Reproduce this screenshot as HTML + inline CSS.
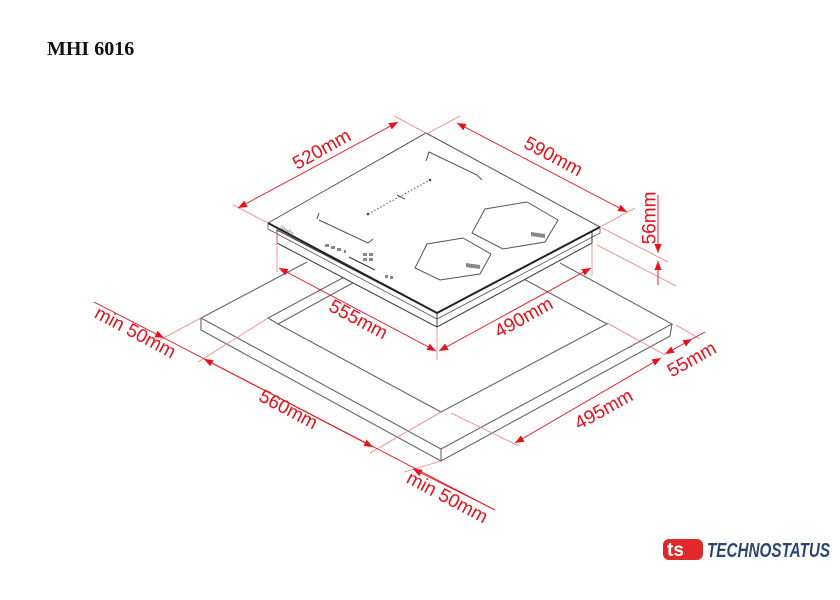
<!DOCTYPE html>
<html><head><meta charset="utf-8"><style>
html,body{margin:0;padding:0;background:#fff;width:840px;height:600px;overflow:hidden}
svg{display:block}
.t{font-family:"Liberation Sans",sans-serif;font-size:19px;fill:#e8101a;text-anchor:middle;dominant-baseline:central}
</style></head><body>
<svg width="840" height="600" viewBox="0 0 840 600" xmlns="http://www.w3.org/2000/svg">
<defs>
<marker id="a" viewBox="0 0 10 10" refX="10" refY="5" markerWidth="9" markerHeight="9" markerUnits="userSpaceOnUse" orient="auto-start-reverse"><path d="M0,1 L10,5 L0,9z" fill="#e8101a"/></marker>
</defs>
<text x="47" y="55" font-family="Liberation Serif,serif" font-weight="bold" font-size="20" fill="#111">MHI 6016</text>

<!-- countertop -->
<g stroke="#666" stroke-width="1.1" fill="none">
<path d="M307,262 L201,318 L441,449 L672,324 L560,263"/>
<path d="M201,318 L201,330 L441,461 L670,336 L672,324"/>
<path d="M441,449 L441,461"/>
<!-- cutout -->
<path d="M350,274 L268,318 L278,324 L441,412 L603,326 L607,324 L520,277"/>
<path d="M360,279 L278,324"/>
</g>

<!-- hob -->
<g fill="#fff" stroke="#444" stroke-width="1.1">
<path d="M277,230 L277,243 L437,327 L592,243 L592,230 L437,313z"/>
</g>
<path d="M437,313 L437,327" stroke="#444" stroke-width="1"/>
<path d="M268,223 L426,133 L600,227 L437,313z" fill="#fff" stroke="#555" stroke-width="1"/>
<path d="M268,223 L437,313 L600,227" fill="none" stroke="#222" stroke-width="2"/>
<path d="M268,223 L268,229 L437,319 L600,233 L600,227" fill="none" stroke="#555" stroke-width="0.8"/>

<g fill="none" stroke="#555" stroke-width="1">
<path d="M485,209 L527,202 L558,220 L545,242 L503,249 L472,233z"/>
<path d="M427,244 L463,238 L491,254 L480,274 L440,280 L415,268z"/>
<path d="M426,161 L429,152 L477,175 L482,180"/>
<path d="M317,219 L319,213 M319,220 L368,243 L373,239"/>
<path d="M368,214 L430,180" stroke-dasharray="1.5,2"/>
<path d="M397,195 L405,199"/>
<path d="M349,257 L375,270" stroke="#333"/>
</g>
<circle cx="368" cy="214" r="1.3" fill="#444"/><circle cx="430" cy="180" r="1.3" fill="#444"/>
<g fill="#888">
<rect x="325" y="244" width="4" height="3"/><rect x="331" y="246" width="4" height="3"/><rect x="337" y="248" width="4" height="3"/><rect x="344" y="250" width="2" height="3"/>
<rect x="363" y="253" width="4" height="3"/><rect x="369" y="253" width="4" height="3"/><rect x="363" y="258" width="4" height="3"/><rect x="369" y="258" width="4" height="3"/>
<rect x="385" y="275" width="3" height="3"/><rect x="390" y="276" width="3" height="3"/>
<path d="M531,232 L545,234 L545,238 L531,236z"/><path d="M466,263 L480,265 L480,269 L466,267z"/>
</g>
<text x="280" y="228" font-family="Liberation Serif,serif" font-style="italic" font-size="5" fill="#555" transform="rotate(28 280 228)">Sandra</text>

<!-- extension lines -->
<g stroke="#f08080" stroke-width="0.8" fill="none">
<path d="M268,223 L233,205 M426,133 L394,116"/>
<path d="M428,133 L460,116 M600,227 L635,208"/>
<path d="M602,228 L668,262 M597,245 L676,286"/>
<path d="M277,232 L277,272 M437,327 L437,360 M592,243 L592,275"/>
<path d="M201,318 L154,343 M268,318 L198,362"/>
<path d="M441,412 L370,453 M441,461 L404,472"/>
<path d="M451,413 L519,446 M607,323 L665,355 M676,325 L700,339"/>
</g>
<!-- dimension lines -->
<g stroke="#e8101a" stroke-width="0.9" fill="none">
<path d="M238,208 L398,122" marker-start="url(#a)" marker-end="url(#a)"/>
<path d="M457,123 L627,212" marker-start="url(#a)" marker-end="url(#a)"/>
<path d="M658,195 L658,253" marker-end="url(#a)"/>
<path d="M658,285 L658,261" marker-end="url(#a)"/>
<path d="M279,268 L436,351" marker-start="url(#a)" marker-end="url(#a)"/>
<path d="M439,351 L591,268" marker-start="url(#a)" marker-end="url(#a)"/>
<path d="M94,302 L164,338" marker-end="url(#a)"/>
<path d="M164,338 L495,510"/>
<path d="M204,359 L373,447" marker-start="url(#a)" marker-end="url(#a)"/>
<path d="M495,510 L413,469" marker-end="url(#a)"/>
<path d="M515,443 L661,358" marker-start="url(#a)" marker-end="url(#a)"/>
<path d="M665,354 L692,339" marker-start="url(#a)" marker-end="url(#a)"/>
<path d="M692,339 L705,332"/>
</g>
<text class="t" transform="translate(322,150) rotate(-29)">520mm</text>
<text class="t" transform="translate(553,157) rotate(28)">590mm</text>
<text class="t" transform="translate(650,218) rotate(-90)">56mm</text>
<text class="t" transform="translate(358,320) rotate(28)">555mm</text>
<text class="t" transform="translate(524,318) rotate(-29)">490mm</text>
<text class="t" transform="translate(135,333) rotate(28)">min 50mm</text>
<text class="t" transform="translate(288,410) rotate(28)">560mm</text>
<text class="t" transform="translate(447,498) rotate(28)">min 50mm</text>
<text class="t" transform="translate(604,410) rotate(-29)">495mm</text>
<text class="t" transform="translate(692,360) rotate(-29)">55mm</text>

<!-- logo -->
<rect x="663" y="539" width="40" height="21" rx="6" fill="#e02a2a"/>
<text x="667" y="556" font-family="Liberation Sans,sans-serif" font-weight="bold" font-size="19" fill="#fff">ts</text>
<text x="707" y="557" font-family="Liberation Sans Narrow,Liberation Sans,sans-serif" font-weight="bold" font-style="italic" font-size="20" fill="#2b4670" textLength="123" lengthAdjust="spacingAndGlyphs">TECHNOSTATUS</text>
</svg>
</body></html>
